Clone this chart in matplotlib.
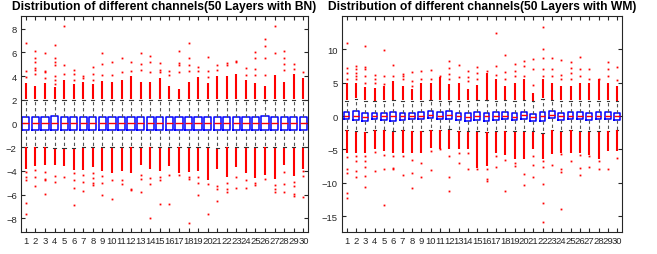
import matplotlib
matplotlib.use("Agg")
import matplotlib.pyplot as plt

plt.rcParams['font.family'] = ['Liberation Sans', 'DejaVu Sans']

channels = list(range(1, 31))

# ---- left panel: 50 layers with BN ----
bn_q1 = [-0.52] * 30
bn_med = [0.0] * 30
bn_q3 = [0.55, 0.55, 0.55, 0.6, 0.55, 0.58, 0.58, 0.58, 0.55, 0.55,
         0.55, 0.58, 0.55, 0.55, 0.55, 0.55, 0.55, 0.58, 0.55, 0.55,
         0.55, 0.55, 0.55, 0.55, 0.55, 0.6, 0.55, 0.58, 0.58, 0.55]
bn_whishi = [2.0] * 30
bn_whislo = [-1.95, -1.95, -1.95, -2.1, -2.1, -2.1, -2.0, -2.0, -2.0, -2.0,
             -2.0, -1.95, -2.0, -1.95, -2.0, -2.0, -1.95, -2.0, -2.0, -2.0,
             -2.1, -1.95, -2.0, -2.0, -2.0, -1.95, -2.0, -2.0, -2.0, -2.0]
bn_dense_hi = [3.45, 3.2, 3.4, 3.1, 3.7, 3.3, 3.5, 3.3, 3.6, 3.5,
               3.7, 4.0, 3.5, 3.5, 3.8, 3.2, 2.9, 3.5, 3.9, 3.4,
               4.0, 4.0, 4.2, 3.7, 3.4, 3.2, 4.1, 3.5, 4.2, 3.8]
bn_dense_lo = [-3.85, -3.6, -3.5, -3.5, -3.6, -3.9, -3.9, -3.7, -4.0, -4.2,
               -4.0, -4.2, -3.5, -3.8, -4.0, -3.6, -4.2, -4.1, -4.0, -4.8,
               -3.8, -4.5, -3.7, -4.2, -4.6, -4.3, -4.7, -3.5, -4.4, -3.8]
bn_out_hi = [[3.9, 4.4, 6.8], [4.2, 4.5, 4.7, 5.2, 5.5, 6.1], [3.8, 4.3, 4.4, 5.9],
             [3.3, 3.7, 4.0, 4.9, 5.2, 5.5, 6.6], [4.2, 4.9, 8.2], [3.7, 4.2, 4.5],
             [3.8, 4.0], [3.7, 4.2, 4.8], [4.1, 5.0, 5.9], [4.1, 5.2],
             [4.3, 5.5], [4.4, 5.2], [4.5, 5.0, 5.9], [4.3, 5.2, 5.7], [4.3, 4.5, 5.1],
             [4.1, 4.4], [4.3, 4.9, 5.1, 6.1], [4.4, 4.9, 5.5, 6.8], [4.4, 4.8],
             [3.9, 4.4, 5.6], [4.5, 4.9], [4.9, 5.1], [5.2, 5.3], [4.1, 4.7],
             [4.1, 4.6, 5.5, 6.0], [4.1, 5.5, 6.5, 7.1], [5.9, 8.2],
             [4.5, 5.0, 5.5, 6.1], [4.6, 5.0], [4.3]]
bn_out_lo = [[-4.1, -4.5, -4.8, -6.7, -7.6], [-3.9, -4.5, -5.3], [-4.1, -4.7, -4.8, -5.9],
             [-4.4, -4.9], [-4.5], [-4.2, -4.8, -5.4, -6.9], [-4.3, -4.9, -5.7],
             [-4.2, -4.6, -5.0, -5.2], [-4.4, -5.0, -6.0], [-4.8, -6.4],
             [-4.8, -5.1], [-5.5, -5.6], [-4.3, -4.7, -5.8], [-4.6, -5.1, -8.0],
             [-4.5, -4.8, -6.8], [-4.3, -6.8], [-4.3], [-4.5, -4.7, -8.4],
             [-4.5, -5.0, -6.0], [-5.1, -7.6], [-5.3, -5.5, -6.5], [-5.0, -5.5, -5.8],
             [-4.5, -5.4], [-4.8, -5.4], [-5.0, -5.2], [-4.7], [-5.2, -5.5, -5.8],
             [-4.1, -5.1, -5.8], [-4.9, -5.3, -5.9, -6.1], [-4.0, -4.4, -6.2]]

# ---- right panel: 50 layers with WM ----
wm_q1 = [-0.5, -0.6, -0.75, -0.5, -0.6, -0.7, -0.55, -0.5, -0.5, -0.3,
         -0.45, -0.4, -0.6, -0.7, -0.6, -0.7, -0.6, -0.5, -0.6, -0.4,
         -0.8, -0.8, -0.3, -0.6, -0.45, -0.5, -0.6, -0.5, -0.5, -0.6]
wm_med = [0.0, 0.05, -0.1, 0.0, -0.05, 0.0, 0.0, 0.0, 0.05, 0.2,
          0.05, 0.1, -0.05, -0.1, 0.0, -0.05, 0.0, 0.05, -0.1, 0.1,
          -0.2, -0.05, 0.2, -0.05, 0.05, 0.0, -0.05, 0.0, 0.0, 0.0]
wm_q3 = [0.6, 0.8, 0.5, 0.5, 0.5, 0.6, 0.5, 0.5, 0.6, 0.8,
         0.65, 0.7, 0.5, 0.4, 0.6, 0.5, 0.6, 0.65, 0.4, 0.6,
         0.25, 0.6, 0.8, 0.5, 0.65, 0.6, 0.4, 0.6, 0.6, 0.5]
wm_whishi = [2.3, 2.6, 2.3, 2.2, 2.3, 2.4, 2.3, 2.3, 2.3, 2.4,
             2.3, 2.3, 2.3, 2.3, 2.4, 2.4, 2.3, 2.4, 2.3, 2.4,
             2.2, 2.6, 2.4, 2.3, 2.3, 2.3, 2.3, 2.3, 2.3, 2.2]
wm_whislo = [-2.1, -2.3, -2.4, -2.1, -2.1, -2.3, -2.1, -2.2, -2.2, -2.1,
             -2.1, -2.0, -2.2, -2.3, -2.3, -2.4, -2.3, -2.2, -2.3, -2.3,
             -2.3, -2.6, -2.1, -2.3, -2.1, -2.3, -2.3, -2.3, -2.2, -2.1]
wm_dense_hi = [5.0, 5.0, 4.3, 4.2, 4.5, 5.3, 4.5, 4.0, 5.0, 5.0,
               5.9, 4.8, 5.0, 4.0, 4.7, 6.5, 5.6, 4.5, 5.0, 5.5,
               3.5, 5.5, 5.0, 4.5, 4.5, 5.0, 5.0, 5.5, 5.0, 4.5]
wm_dense_lo = [-5.5, -5.5, -5.6, -5.0, -5.3, -5.5, -5.5, -5.5, -5.5, -4.8,
               -4.9, -5.0, -5.0, -5.0, -7.8, -7.5, -5.5, -5.8, -6.5, -6.5,
               -5.0, -6.5, -5.7, -5.5, -5.5, -5.5, -5.8, -6.5, -5.2, -5.3]
wm_out_hi = [[5.6, 6.4, 7.2, 10.9], [5.5, 6.0, 6.5, 7.0, 7.5], [5.0, 6.0, 7.0, 7.3, 10.5],
             [5.0, 5.5, 6.1], [4.8, 6.0, 9.9], [6.0, 7.7], [5.5, 6.0, 6.3],
             [4.5, 5.3, 6.6], [5.5, 6.7], [5.5, 6.9], [6.0], [5.5, 6.3, 7.2, 8.3],
             [5.8, 7.6], [5.2, 5.8, 6.8], [5.5, 6.5, 7.3], [6.7], [6.2, 7.5, 12.4],
             [5.5, 6.6, 9.1], [6.0, 6.8, 7.8], [6.0, 7.5, 8.3], [4.7, 7.0, 8.5],
             [6.0, 7.0, 8.7, 10.0, 13.3], [6.0, 7.0, 8.7], [5.5, 6.1, 8.4],
             [5.5, 6.5, 7.2, 8.1], [6.0, 7.0, 8.8], [5.6, 7.0], [5.6],
             [6.0, 7.0, 8.1], [5.4, 7.4]]
wm_out_lo = [[-6.2, -8.0, -8.5, -11.5, -12.3], [-6.0, -6.8, -8.2, -9.2],
             [-6.0, -6.8, -7.7, -9.0, -10.7], [-5.4, -8.2], [-5.8, -8.0, -13.4],
             [-6.0, -7.8, -8.0], [-6.0, -8.9], [-6.6, -8.5, -10.8], [-7.0, -9.2],
             [-5.3, -8.1], [-4.9], [-6.0, -9.2, -11.2], [-5.5, -7.0], [-5.5, -7.9],
             [-7.9], [-8.0, -9.4, -9.7], [-6.0, -7.6], [-6.6, -11.3], [-7.0, -7.5],
             [-8.7, -10.3], [-6.0, -7.3, -9.1], [-6.8, -7.6, -10.2, -13.0, -15.9],
             [-7.3], [-5.7, -8.0, -8.4, -14.0], [-6.7], [-5.8, -7.8, -8.9],
             [-6.0, -7.7], [-6.8, -8.0], [-8.0], [-6.3]]


def draw_panel(ax, title, q1, med, q3, wlo, whi, dlo, dhi, olo, ohi,
               width, ylim, yticks):
    stats = []
    for i in range(30):
        stats.append(dict(q1=q1[i], med=med[i], q3=q3[i], whislo=wlo[i],
                          whishi=whi[i], fliers=olo[i] + ohi[i]))
    ax.bxp(stats, positions=channels, widths=width, showfliers=True,
           boxprops=dict(color='blue', lw=1.1),
           medianprops=dict(color='red', lw=1.0),
           whiskerprops=dict(color='#555555', lw=0.8, ls=(0, (3, 2.5))),
           capprops=dict(color='#333333', lw=0.8),
           flierprops=dict(marker='s', markersize=1.3, markerfacecolor='red',
                           markeredgecolor='none', ls='none'),
           capwidths=width * 0.45)
    # dense clouds of outliers just beyond the whiskers
    ax.vlines(channels, [w + 0.05 for w in whi], dhi, color='red', lw=1.5)
    ax.vlines(channels, [w - 0.05 for w in wlo], dlo, color='red', lw=1.5)
    ax.set_xlim(0.5, 30.5)
    ax.set_ylim(*ylim)
    ax.set_yticks(yticks)
    ax.set_xticks(channels)
    ax.set_xticklabels([str(c) for c in channels])
    ax.tick_params(direction='in', top=True, right=True, length=3,
                   labelsize=6.8, colors='#262626', pad=3)
    for s in ax.spines.values():
        s.set_color('#262626')
        s.set_linewidth(0.8)
    ax.set_title(title, fontsize=8.7, fontweight='bold', pad=5)


fig = plt.figure(figsize=(6.57, 2.55), dpi=100)
ax1 = fig.add_axes([0.032, 0.086, 0.437, 0.847])
ax2 = fig.add_axes([0.5205, 0.086, 0.426, 0.847])

draw_panel(ax1, 'Distribution of different channels(50 Layers with BN)',
           bn_q1, bn_med, bn_q3, bn_whislo, bn_whishi, bn_dense_lo, bn_dense_hi,
           bn_out_lo, bn_out_hi, 0.75, (-9.15, 9.05), [-8, -6, -4, -2, 0, 2, 4, 6, 8])
draw_panel(ax2, 'Distribution of different channels(50 Layers with WM)',
           wm_q1, wm_med, wm_q3, wm_whislo, wm_whishi, wm_dense_lo, wm_dense_hi,
           wm_out_lo, wm_out_hi, 0.6, (-17.4, 15.0), [-15, -10, -5, 0, 5, 10])

fig.savefig('out.png', dpi=100)
